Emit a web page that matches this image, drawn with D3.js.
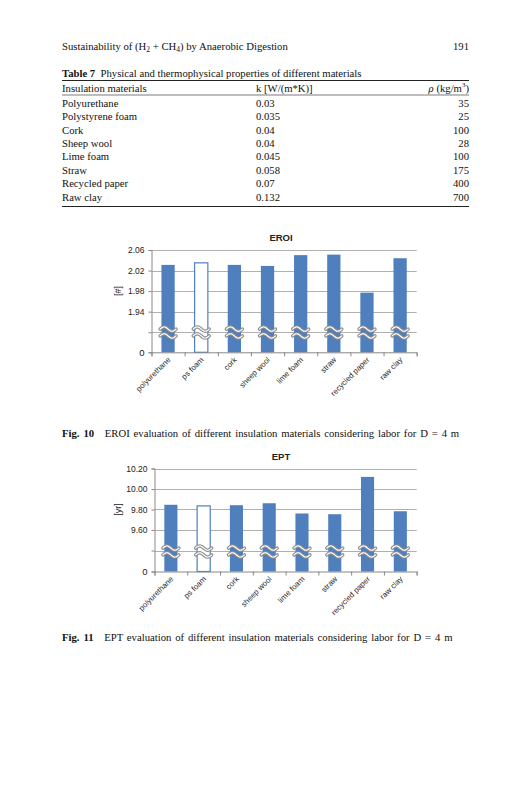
<!DOCTYPE html>
<html>
<head>
<meta charset="utf-8">
<script src="https://cdn.jsdelivr.net/npm/d3@7"></script>
<style>
  html, body { margin: 0; padding: 0; background: #fff; }
  svg { display: block; }
  .serif { font-family: "Liberation Serif", "DejaVu Serif", serif; fill: #111; }
  .sans { font-family: "Liberation Sans", Arial, sans-serif; fill: #222; }
</style>
</head>
<body>
<svg id="page" width="527" height="800"></svg>
<script>
// table 7
const materials = ['Polyurethane', 'Polystyrene foam', 'Cork', 'Sheep wool', 'Lime foam', 'Straw', 'Recycled paper', 'Raw clay'];
const kValues = ['0.03', '0.035', '0.04', '0.04', '0.045', '0.058', '0.07', '0.132'];
const rhoValues = [35, 25, 100, 28, 100, 175, 400, 700];

// charts
const categories = ['polyurethane', 'ps foam', 'cork', 'sheep wool', 'lime foam', 'straw', 'recycled paper', 'raw clay'];
const eroiValues = [2.031, 2.035, 2.031, 2.029, 2.050, 2.051, 1.977, 2.044];
const eroiTicks = [1.94, 1.98, 2.02, 2.06];
const eptValues = [9.846, 9.835, 9.842, 9.861, 9.761, 9.754, 10.118, 9.783];
const eptTicks = [9.60, 9.80, 10.00, 10.20];
const hollowBar = 'ps foam';

const BLUE = '#4f7fbd';
const FS = 10.7; // body serif size
const svg = d3.select('#page');

// page header
svg.append('text').attr('class', 'serif').attr('x', 62).attr('y', 50)
  .attr('font-size', FS)
  .html('Sustainability of (H<tspan font-size="7.5" dy="2">2</tspan><tspan dy="-2"> + CH</tspan><tspan font-size="7.5" dy="2">4</tspan><tspan dy="-2">) by Anaerobic Digestion</tspan>');
svg.append('text').attr('class', 'serif').attr('x', 469).attr('y', 50)
  .attr('font-size', FS).attr('text-anchor', 'end').text('191');

// table
const tL = 62, tR = 469, col2 = 256;
const cap = svg.append('text').attr('class', 'serif').attr('x', tL).attr('y', 77).attr('font-size', FS);
cap.append('tspan').attr('font-weight', 'bold').text('Table 7');
cap.append('tspan').text('\u2002Physical and thermophysical properties of different materials');

svg.append('line').attr('x1', tL).attr('x2', tR).attr('y1', 80.5).attr('y2', 80.5).attr('stroke', '#222').attr('stroke-width', 1);
svg.append('line').attr('x1', tL).attr('x2', tR).attr('y1', 95).attr('y2', 95).attr('stroke', '#222').attr('stroke-width', 0.6);

svg.append('text').attr('class', 'serif').attr('x', tL).attr('y', 91.5).attr('font-size', FS).text('Insulation materials');
svg.append('text').attr('class', 'serif').attr('x', col2).attr('y', 91.5).attr('font-size', FS).text('k [W/(m*K)]');
svg.append('text').attr('class', 'serif').attr('x', tR).attr('y', 91.5).attr('font-size', FS).attr('text-anchor', 'end')
  .html('<tspan font-style="italic">\u03c1</tspan> (kg/m<tspan font-size="7" dy="-4.5">3</tspan><tspan dy="4.5">)</tspan>');

const rowY = d3.scaleLinear().domain([0, 7]).range([107, 200.5]);
const rows = svg.append('g').selectAll('g').data(materials).join('g')
  .attr('transform', (d, i) => `translate(0,${rowY(i)})`);
rows.append('text').attr('class', 'serif').attr('x', tL).attr('font-size', FS).text(d => d);
rows.append('text').attr('class', 'serif').attr('x', col2).attr('font-size', FS).text((d, i) => kValues[i]);
rows.append('text').attr('class', 'serif').attr('x', tR).attr('font-size', FS).attr('text-anchor', 'end').text((d, i) => rhoValues[i]);
svg.append('line').attr('x1', tL).attr('x2', tR).attr('y1', 206.5).attr('y2', 206.5).attr('stroke', '#222').attr('stroke-width', 1);

// squiggle for the broken axis
function breakMark(g, cx, cy) {
  const pts = d3.range(0, 1.0001, 0.05);
  const wave = dy => d3.line().curve(d3.curveBasis)(pts.map(t => [cx - 8 + t * 16, cy + dy - 2.2 * Math.sin(t * Math.PI * 2)]));
  [-3.4, 3.4].forEach(dy => {
    g.append('path').attr('d', wave(dy)).attr('fill', 'none').attr('stroke', '#8c8c8c').attr('stroke-width', 3.4).attr('stroke-linecap', 'round');
    g.append('path').attr('d', wave(dy)).attr('fill', 'none').attr('stroke', '#fff').attr('stroke-width', 1.2).attr('stroke-linecap', 'round');
  });
}

function drawChart(cfg) {
  const g = svg.append('g');
  const x = d3.scaleBand().domain(categories).range([cfg.x0, cfg.x1]).paddingInner(0.6).paddingOuter(0.3);
  const xEdge = d3.scaleLinear().domain([0, categories.length]).range([cfg.x0, cfg.x1]);
  const y = d3.scaleLinear().domain([0, cfg.brk, cfg.top]).range([cfg.zeroY, cfg.brkY, cfg.topY]);

  const gridVals = [cfg.brk].concat(cfg.ticks);
  g.append('g').selectAll('line').data(gridVals).join('line')
    .attr('x1', cfg.x0).attr('x2', cfg.x1)
    .attr('y1', d => Math.round(y(d)) + 0.5).attr('y2', d => Math.round(y(d)) + 0.5)
    .attr('stroke', '#b0b0b0').attr('stroke-width', 1);

  g.append('g').selectAll('rect').data(categories).join('rect')
    .attr('x', d => x(d)).attr('width', x.bandwidth())
    .attr('y', (d, i) => y(cfg.values[i])).attr('height', (d, i) => cfg.zeroY - y(cfg.values[i]))
    .attr('fill', d => d === hollowBar ? '#fff' : BLUE)
    .attr('stroke', d => d === hollowBar ? BLUE : 'none').attr('stroke-width', 1.2);

  categories.forEach(c => breakMark(g, x(c) + x.bandwidth() / 2, Math.round(y(cfg.brk)) + 0.5));

  const yAxis = g.append('g').attr('transform', `translate(${cfg.x0},0)`)
    .call(d3.axisLeft(y).tickValues([0, cfg.brk].concat(cfg.ticks)).tickSize(3).tickPadding(4)
      .tickFormat(d => d === 0 ? '0' : d === cfg.brk ? '' : d3.format('.2f')(d)));
  yAxis.select('.domain').attr('stroke', '#888');
  yAxis.selectAll('.tick line').attr('stroke', '#888');
  yAxis.selectAll('.tick text').attr('class', 'sans').attr('font-size', 8.5).attr('fill', '#222');
  yAxis.selectAll('.tick').filter(d => d === 0).select('text').attr('font-size', 9.5);

  const xAxis = g.append('g').attr('transform', `translate(0,${cfg.zeroY})`)
    .call(d3.axisBottom(xEdge).tickValues(d3.range(categories.length + 1)).tickSize(4).tickFormat(''));
  xAxis.select('.domain').attr('stroke', '#888');
  xAxis.selectAll('.tick line').attr('stroke', '#888');

  g.append('g').selectAll('text').data(categories).join('text')
    .attr('class', 'sans').attr('font-size', 7.8).attr('text-anchor', 'end')
    .attr('transform', d => `translate(${x(d) + x.bandwidth() / 2 + 3},${cfg.zeroY + 8}) rotate(-45)`)
    .text(d => d);

  g.append('text').attr('class', 'sans').attr('x', 281).attr('y', cfg.topY - 9)
    .attr('text-anchor', 'middle').attr('font-size', 9.5).attr('font-weight', 'bold').attr('fill', '#111')
    .text(cfg.title);

  g.append('text').attr('class', 'sans').attr('font-size', 9).attr('text-anchor', 'middle')
    .attr('transform', `translate(121,${(cfg.topY + cfg.brkY) / 2}) rotate(-90)`)
    .text(cfg.yLabel);

  const fc = svg.append('text').attr('class', 'serif').attr('x', 62).attr('y', cfg.captionY)
    .attr('font-size', FS).attr('word-spacing', 1.2);
  fc.append('tspan').attr('font-weight', 'bold').text(cfg.figLabel);
  fc.append('tspan').text('\u2003' + cfg.caption);
}

drawChart({
  title: 'EROI', yLabel: '[#]', values: eroiValues, ticks: eroiTicks,
  x0: 151.5, x1: 416.7, zeroY: 352.3, brk: 1.90, brkY: 332.2, top: 2.06, topY: 250,
  figLabel: 'Fig. 10', captionY: 437,
  caption: 'EROI evaluation of different insulation materials considering labor for D = 4 m'
});

drawChart({
  title: 'EPT', yLabel: '[yr]', values: eptValues, ticks: eptTicks,
  x0: 154.5, x1: 416.7, zeroY: 571.5, brk: 9.40, brkY: 550.5, top: 10.20, topY: 468.5,
  figLabel: 'Fig. 11', captionY: 641,
  caption: 'EPT evaluation of different insulation materials considering labor for D = 4 m'
});
</script>
</body>
</html>
